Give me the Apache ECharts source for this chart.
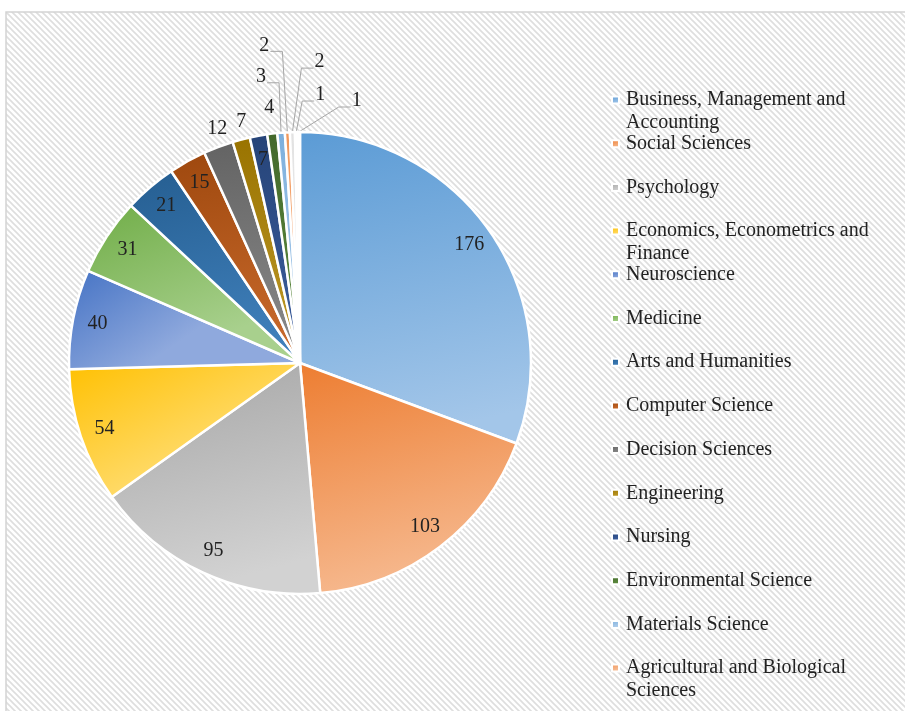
<!DOCTYPE html>
<html>
<head>
<meta charset="utf-8">
<script src="https://cdn.jsdelivr.net/npm/echarts@6/dist/echarts.min.js"></script>
<style>
html, body { margin: 0; padding: 0; background: #fff; }
#main { width: 905px; height: 711px; }
</style>
</head>
<body>
<div id="main"></div>
<script>
// subject areas, clockwise from 12 o'clock (last three are not shown in the legend)
var categories = [
  'Business, Management and Accounting', 'Social Sciences', 'Psychology',
  'Economics, Econometrics and Finance', 'Neuroscience', 'Medicine',
  'Arts and Humanities', 'Computer Science', 'Decision Sciences', 'Engineering',
  'Nursing', 'Environmental Science', 'Materials Science',
  'Agricultural and Biological Sciences', 'Other 1', 'Other 2', 'Other 3'
];
var values = [176, 103, 95, 54, 40, 31, 21, 15, 12, 7, 7, 4, 3, 2, 2, 1, 1];

// legend lines as wrapped in the picture
var legendLines = [
  ['Business, Management and', 'Accounting'], ['Social Sciences'], ['Psychology'],
  ['Economics, Econometrics and', 'Finance'], ['Neuroscience'], ['Medicine'],
  ['Arts and Humanities'], ['Computer Science'], ['Decision Sciences'], ['Engineering'],
  ['Nursing'], ['Environmental Science'], ['Materials Science'],
  ['Agricultural and Biological', 'Sciences']
];

var topColors = ['#5b9bd5', '#ed7d31', '#a5a5a5', '#ffc000', '#4472c4', '#70ad47',
  '#255e91', '#9e480e', '#636363', '#997300', '#264478', '#43682b',
  '#7cafdd', '#f1975a', '#e2e2e2', '#f3ecd8', '#e3e9f5'];
var bottomColors = ['#a3c6e9', '#f6b98f', '#d2d2d2', '#ffdc70', '#8fa9dd', '#a8d08d',
  '#3f7fba', '#c96a2c', '#8a8a8a', '#bf9a2a', '#3d5fa0', '#5f8f40',
  '#b4d0ec', '#f7c3a0', '#f2f2f2', '#fbf6ea', '#f1f4fa'];

var insideIdx = [0, 1, 2, 3, 4, 5, 6, 7, 10];
// where the outside labels sit relative to the slice's outer edge (px), and whether a leader line is drawn
var outsideOffset = {
  8: [-1, -18, 0], 9: [0, -18, 0], 11: [-3, -26, 0],
  12: [-20, -56, 1], 13: [-23, -87, 1], 14: [27, -70, 1], 15: [24, -37, 1], 16: [58, -31, 1]
};

var chart = echarts.init(document.getElementById('main'));

// hatched plot background
var pat = document.createElement('canvas');
pat.width = 6; pat.height = 6;
var g = pat.getContext('2d');
g.fillStyle = '#ffffff'; g.fillRect(0, 0, 6, 6);
g.strokeStyle = '#dedede'; g.lineWidth = 1.6;
g.beginPath();
g.moveTo(-1, -1); g.lineTo(7, 7);
g.moveTo(-1, 5); g.lineTo(1, 7);
g.moveTo(5, -1); g.lineTo(7, 1);
g.stroke();

var serif = 'Liberation Serif, Times New Roman, serif';
var cx = 300, cy = 363, R = 231;
var total = values.reduce(function (a, b) { return a + b; }, 0);

function edgePoint(i) {
  var before = 0;
  for (var k = 0; k < i; k++) before += values[k];
  var a = (before + values[i] / 2) / total * Math.PI * 2;
  return [cx + R * Math.sin(a), cy - R * Math.cos(a)];
}

var pieData = values.map(function (v, i) {
  var inside = insideIdx.indexOf(i) >= 0;
  var off = outsideOffset[i];
  return {
    name: categories[i],
    value: v,
    itemStyle: {
      color: new echarts.graphic.LinearGradient(0, 0, 0.3, 1, [
        { offset: 0, color: topColors[i] },
        { offset: 1, color: bottomColors[i] }
      ])
    },
    label: { show: !inside },
    labelLine: { show: !!(off && off[2]) }
  };
});

var labelData = values.map(function (v, i) {
  return {
    name: categories[i],
    value: v,
    label: { show: insideIdx.indexOf(i) >= 0 }
  };
});

var lineH = 23, legendTop = 100, pitch = 43.7;
var legends = legendLines.map(function (lines, i) {
  var txt = lines.length > 1 ? '\n' + lines.join('\n') : lines[0];
  var n = lines.length > 1 ? 3 : 1;
  return {
    data: [categories[i]],
    left: 611,
    top: legendTop + i * pitch - n * lineH / 2,
    padding: 0,
    icon: 'rect',
    itemWidth: 7,
    itemHeight: 7,
    itemGap: 0,
    selectedMode: false,
    formatter: function () { return txt; },
    textStyle: { fontFamily: serif, fontSize: 20, color: '#222', lineHeight: lineH, padding: [0, 0, 0, 2] }
  };
});

chart.setOption({
  backgroundColor: '#fff',
  animation: false,
  graphic: [{
    type: 'rect',
    shape: { x: 6, y: 12, width: 905, height: 705 },
    style: { fill: { image: pat, repeat: 'repeat' }, stroke: '#d4d4d4', lineWidth: 1.5 },
    z: -10,
    silent: true
  }],
  legend: legends,
  series: [{
    type: 'pie',
    center: [cx, cy],
    radius: [0, R],
    startAngle: 90,
    clockwise: true,
    avoidLabelOverlap: false,
    itemStyle: { borderColor: '#fff', borderWidth: 2.5 },
    label: { position: 'outside', fontFamily: serif, fontSize: 20, color: '#222', formatter: '{c}' },
    labelLine: { length: 10, length2: 5, smooth: false, lineStyle: { color: '#a6a6a6', width: 1 } },
    labelLayout: function (p) {
      var off = outsideOffset[p.dataIndex];
      if (!off) return {};
      var e = edgePoint(p.dataIndex);
      var lx = e[0] + off[0], ly = e[1] + off[1];
      var side = off[0] < 0 ? -1 : 1;
      var out = { x: lx, y: ly, align: 'center', verticalAlign: 'middle' };
      if (off[2]) {
        out.labelLinePoints = [e, [lx - side * 18, ly + 6], [lx - side * 6, ly + 6]];
      }
      return out;
    },
    emphasis: { disabled: true },
    data: pieData
  }, {
    type: 'pie',
    center: [cx, cy],
    radius: [R * 0.76, R],
    startAngle: 90,
    clockwise: true,
    silent: true,
    legendHoverLink: false,
    itemStyle: { color: 'rgba(0,0,0,0)' },
    label: { position: 'inside', fontFamily: serif, fontSize: 20, color: '#222', formatter: '{c}' },
    labelLine: { show: false },
    emphasis: { disabled: true },
    data: labelData
  }]
});
</script>
</body>
</html>
